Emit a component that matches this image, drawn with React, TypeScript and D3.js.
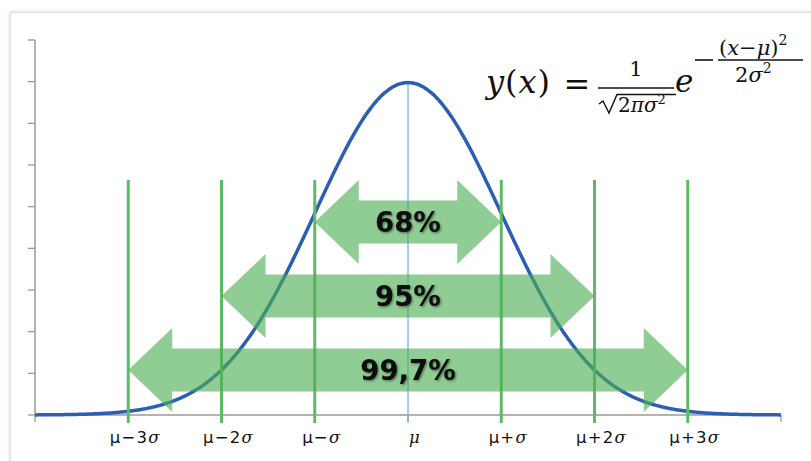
import React from "react";
import * as d3 from "d3";

// Normal distribution, standardised units (μ = 0, σ = 1)
const MU = 0;
const SIGMA = 1;
const X_DOMAIN: [number, number] = [-4, 4];
const Y_DOMAIN: [number, number] = [0, 0.45];
const Y_TICK_STEP = 0.05;
const X_TICKS = [-4, 0, 4];

// Vertical guide lines at multiples of σ
const sigmaMultiples = [-3, -2, -1, 0, 1, 2, 3];
const sigmaLabels = ["μ−3σ", "μ−2σ", "μ−σ", "μ", "μ+σ", "μ+2σ", "μ+3σ"];

// Coverage bands: ±kσ and the share of values inside them
const coverageSpans = [1, 2, 3];
const coverageLabels = ["68%", "95%", "99,7%"];

const W = 811;
const H = 461;

const pdf = (x: number) =>
  Math.exp(-((x - MU) ** 2) / (2 * SIGMA ** 2)) / Math.sqrt(2 * Math.PI * SIGMA ** 2);

export default function App() {
  const x = d3.scaleLinear().domain(X_DOMAIN).range([35, 781]);
  const y = d3.scaleLinear().domain(Y_DOMAIN).range([415, 40]);

  const samples = d3.range(X_DOMAIN[0], X_DOMAIN[1] + 0.0001, 0.02);
  const line = d3
    .line<number>()
    .x((d) => x(d))
    .y((d) => y(pdf(d)))
    .curve(d3.curveBasis);

  const yTicks = d3.range(Y_DOMAIN[0], Y_DOMAIN[1] + 1e-9, Y_TICK_STEP);

  const headLen = 44;
  const headHalf = 42;
  const shaftHalf = 21.5;
  const arrowPath = (k: number, cy: number) => {
    const xl = x(MU - k * SIGMA);
    const xr = x(MU + k * SIGMA);
    const pts: [number, number][] = [
      [xl, cy],
      [xl + headLen, cy - headHalf],
      [xl + headLen, cy - shaftHalf],
      [xr - headLen, cy - shaftHalf],
      [xr - headLen, cy - headHalf],
      [xr, cy],
      [xr - headLen, cy + headHalf],
      [xr - headLen, cy + shaftHalf],
      [xl + headLen, cy + shaftHalf],
      [xl + headLen, cy + headHalf],
    ];
    return "M" + pts.map((p) => p.join(",")).join("L") + "Z";
  };
  const rowY = (i: number) => 222 + i * 74;

  const sans = "'DejaVu Sans', Verdana, sans-serif";
  const serif = "'DejaVu Serif', 'Liberation Serif', serif";

  const renderSigmaLabel = (label: string) => {
    if (label === "μ") {
      return (
        <tspan fontFamily={serif} fontStyle="italic">
          μ
        </tspan>
      );
    }
    return Array.from(label).map((ch, i) =>
      ch === "σ" ? (
        <tspan key={i} fontFamily={serif} fontStyle="italic">
          σ
        </tspan>
      ) : (
        <tspan key={i} fontFamily={sans}>
          {ch}
        </tspan>
      )
    );
  };

  return (
    <svg
      width={W}
      height={H}
      style={{ position: "absolute", left: 0, top: 0, background: "#fff" }}
    >
      <defs>
        <filter id="frameShadow" x="-5%" y="-5%" width="110%" height="110%">
          <feGaussianBlur stdDeviation="1.5" />
        </filter>
        <filter id="textShadow" x="-20%" y="-30%" width="140%" height="160%">
          <feDropShadow dx="1.2" dy="1.2" stdDeviation="1.2" floodColor="#000" floodOpacity="0.45" />
        </filter>
      </defs>

      {/* chart frame */}
      <rect x={10.5} y={12.5} width={840} height={480} fill="none" stroke="#d0d0d0" strokeWidth={2} filter="url(#frameShadow)" />
      <rect x={10.5} y={12.5} width={840} height={480} fill="#fff" stroke="#e2e2e2" strokeWidth={1} />

      {/* y axis */}
      <line x1={x(X_DOMAIN[0])} x2={x(X_DOMAIN[0])} y1={y(Y_DOMAIN[1])} y2={y(0)} stroke="#9a9a9a" strokeWidth={1.5} />
      {yTicks.map((t) => (
        <line key={t} x1={x(X_DOMAIN[0]) - 7} x2={x(X_DOMAIN[0])} y1={y(t)} y2={y(t)} stroke="#9a9a9a" strokeWidth={1.3} />
      ))}

      {/* x axis */}
      <line x1={x(X_DOMAIN[0])} x2={x(X_DOMAIN[1])} y1={y(0)} y2={y(0)} stroke="#9a9a9a" strokeWidth={1.5} />
      {X_TICKS.map((t) => (
        <line key={t} x1={x(t)} x2={x(t)} y1={y(0)} y2={y(0) + 7} stroke="#9a9a9a" strokeWidth={1.3} />
      ))}

      {/* mean line */}
      <line x1={x(MU)} x2={x(MU)} y1={y(pdf(MU))} y2={y(0) + 8} stroke="#7fb0e3" strokeWidth={1.3} />

      {/* density curve */}
      <path d={line(samples) || ""} fill="none" stroke="#2b5fb4" strokeWidth={3.5} />

      {/* σ guide lines */}
      {sigmaMultiples
        .filter((k) => k !== 0)
        .map((k) => (
          <line key={k} x1={x(MU + k * SIGMA)} x2={x(MU + k * SIGMA)} y1={180} y2={y(0) + 8} stroke="#5dba65" strokeWidth={3} />
        ))}

      {/* coverage arrows */}
      {coverageSpans.map((k, i) => (
        <path key={k} d={arrowPath(k, rowY(i))} fill="#4cae52" fillOpacity={0.62} />
      ))}
      {coverageLabels.map((lab, i) => (
        <text
          key={lab}
          x={x(MU)}
          y={rowY(i) + 10}
          textAnchor="middle"
          fontFamily={sans}
          fontWeight="bold"
          fontSize={27.5}
          fill="#0a0a0a"
          filter="url(#textShadow)"
        >
          {lab}
        </text>
      ))}

      {/* σ labels */}
      {sigmaMultiples.map((k, i) => (
        <text key={k} x={x(MU + k * SIGMA) + 7} y={443} textAnchor="middle" fontSize={16.5} fill="#111" letterSpacing={1.2}>
          {renderSigmaLabel(sigmaLabels[i])}
        </text>
      ))}

      {/* density formula */}
      <g fill="#111" fontFamily={serif}>
        <text x={486} y={93} fontSize={32} letterSpacing={1}>
          <tspan fontStyle="italic">y</tspan>(<tspan fontStyle="italic">x</tspan>)
        </text>
        <text x={577} y={95} fontSize={32} textAnchor="middle">=</text>
        <text x={636} y={76} fontSize={21} textAnchor="middle">1</text>
        <line x1={598} x2={674} y1={88} y2={88} stroke="#111" strokeWidth={1.5} />
        <path d="M599,104 L603,101 L609,113 L617,94.5 L676,94.5" fill="none" stroke="#111" strokeWidth={1.4} />
        <text x={618} y={112} fontSize={20}>
          2<tspan fontStyle="italic">πσ</tspan>
          <tspan fontSize={13} dy={-8}>2</tspan>
        </text>
        <text x={675} y={92} fontSize={31} fontStyle="italic">e</text>
        <line x1={695} x2={713} y1={60} y2={60} stroke="#111" strokeWidth={1.6} />
        <text x={719} y={55} fontSize={21}>
          (<tspan fontStyle="italic">x</tspan>−<tspan fontStyle="italic">μ</tspan>)
          <tspan fontSize={14} dy={-10}>2</tspan>
        </text>
        <line x1={718} x2={803} y1={60} y2={60} stroke="#111" strokeWidth={1.5} />
        <text x={735} y={82} fontSize={21}>
          2<tspan fontStyle="italic">σ</tspan>
          <tspan fontSize={14} dy={-9}>2</tspan>
        </text>
      </g>
    </svg>
  );
}
